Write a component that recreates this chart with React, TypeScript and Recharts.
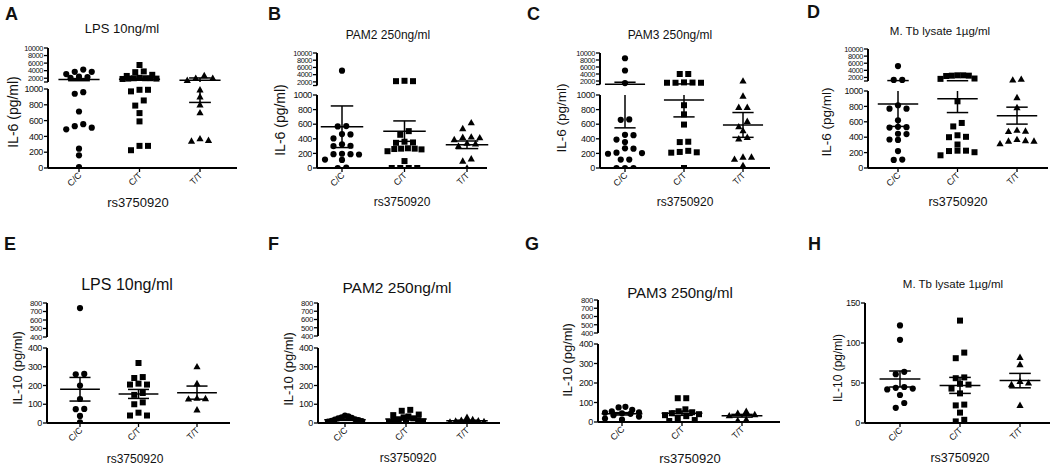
import { ScatterChart, Scatter, XAxis, YAxis, ReferenceLine } from "recharts"

const FONT = '"Liberation Sans", Arial, Helvetica, sans-serif'

const genotypes = ["C/C", "C/T", "T/T"]

// IL-6 (pg/ml)
const lpsIl6CC = [2400, 3700, 4300, 3700, 2300, 2100, 3100, 940, 960, 715, 530, 490, 510, 555, 245, 160, 10]
const lpsIl6CT = [5500, 3600, 3800, 2600, 2900, 2000, 1900, 2000, 2100, 1900, 2000, 1800, 990, 990, 970, 855, 790, 695, 590, 280, 280, 225]
const lpsIl6TT = [2000, 1450, 2000, 2700, 990, 900, 800, 700, 370, 340, 350]
const lpsIl6Mean = [1630, 1720, 1450]
const lpsIl6Sem = [280, 250, 620]

const pam2Il6CC = [5100, 575, 570, 465, 460, 405, 325, 305, 300, 195, 190, 190, 185, 115, 110, 0, 5]
const pam2Il6CT = [2200, 2200, 2300, 505, 455, 360, 350, 345, 270, 265, 260, 265, 255, 230, 95, 0, 0, 0, 0]
const pam2Il6TT = [540, 620, 420, 415, 425, 390, 340, 330, 300, 125, 95, 0]
const pam2Il6Mean = [565, 505, 318]
const pam2Il6Sem = [285, 140, 52]

const pam3Il6CC = [8500, 5000, 1400, 665, 660, 450, 455, 390, 355, 265, 270, 205, 210, 195, 115, 115, 0, 0, 0]
const pam3Il6CT = [4000, 4000, 1500, 1500, 1550, 1500, 1600, 860, 735, 595, 360, 355, 235, 210, 215, 220, 0]
const pam3Il6TT = [2000, 985, 830, 830, 640, 565, 510, 420, 400, 150, 150, 120, 35]
const pam3Il6Mean = [1100, 930, 590]
const pam3Il6Sem = [550, 230, 170]

const mtbIl6CC = [5200, 1300, 1300, 815, 770, 770, 620, 530, 535, 525, 445, 440, 370, 365, 220, 110, 105]
const mtbIl6CT = [2600, 2600, 2500, 2500, 2400, 1600, 1700, 866, 585, 540, 425, 400, 405, 305, 225, 220, 165, 205, 225]
const mtbIl6TT = [1500, 1300, 915, 785, 490, 475, 480, 370, 350, 350, 355, 315]
const mtbIl6Mean = [830, 900, 680]
const mtbIl6Sem = [290, 180, 110]

// IL-10 (pg/ml)
const lpsIl10CC = [740, 260, 262, 200, 128, 75, 74, 38, 4]
const lpsIl10CT = [320, 245, 240, 210, 205, 205, 160, 150, 110, 100, 55, 40, 40]
const lpsIl10TT = [300, 210, 130, 128, 132, 70]
const lpsIl10Mean = [180, 155, 162]
const lpsIl10Sem = [63, 24, 35]

const pam2Il10CC = [40, 35, 30, 28, 25, 20, 18, 15, 12, 10, 8]
const pam2Il10CT = [65, 70, 45, 42, 35, 30, 25, 20, 15, 12, 8, 5, 0]
const pam2Il10TT = [30, 18, 15, 12, 10, 8, 5]
const pam2Il10Mean = [18, 22, 12]
const pam2Il10Sem = [4, 6, 3]

const pam3Il10CC = [75, 78, 62, 55, 50, 48, 45, 42, 35, 28, 18, 12]
const pam3Il10CT = [122, 122, 65, 55, 50, 45, 40, 35, 30, 20, 10, 5]
const pam3Il10TT = [55, 45, 38, 32, 12, 8]
const pam3Il10Mean = [42, 45, 32]
const pam3Il10Sem = [6, 11, 7]

const mtbIl10CC = [122, 104, 64, 61, 45, 44, 43, 42, 35, 25, 19]
const mtbIl10CT = [128, 88, 81, 57, 56, 49, 48, 43, 37, 23, 22, 13, 4, 2]
const mtbIl10TT = [82, 73, 52, 50, 48, 22]
const mtbIl10Mean = [55, 47, 53]
const mtbIl10Sem = [10, 10, 9]

// axis ticks
const il6LowTicks = [0, 200, 400, 600, 800, 1000]
const il6UpTicks = [2000, 4000, 6000, 8000, 10000]
const il10LowTicks = [0, 100, 200, 300, 400]
const il10UpTicks = [400, 500, 600, 700, 800]
const mtbIl10Ticks = [0, 50, 100, 150]

type Brk = { lowMax: number; upMin: number; upMax: number; lowH: number; gap: number }
type Cfg = {
  letter: string; letterX: number; letterY: number
  title: string; titleSize: number; titleX: number; titleY: number
  yLabel: string; yLabelSize: number; yLabelX: number; yLabelY: number
  xLabelSize: number; xLabelX: number; xLabelY: number
  box: [number, number, number, number]
  x0: number; c1: number; c3: number; x1: number; yTop: number; yBot: number
  brk?: Brk; yMax?: number; upFont?: number
  lowTicks: number[]; upTicks?: number[]
  groups: number[][]; mean: number[]; sem: number[]
}

const il6Brk = (lowH: number, gap: number): Brk => ({ lowMax: 1000, upMin: 1000, upMax: 10000, lowH, gap })
const il10Brk = (lowH: number, gap: number): Brk => ({ lowMax: 400, upMin: 400, upMax: 800, lowH, gap })

const panels: Cfg[] = [
  {
    letter: "A", letterX: 5, letterY: 7,
    title: "LPS 10ng/ml", titleSize: 13, titleX: 122, titleY: 28,
    yLabel: "IL-6 (pg/ml)", yLabelSize: 14, yLabelX: 13, yLabelY: 112,
    xLabelSize: 13, xLabelX: 138, xLabelY: 202,
    box: [0, 0, 262, 240], x0: 48, c1: 79, c3: 200, x1: 237, yTop: 48, yBot: 168,
    brk: il6Brk(79, 7), lowTicks: il6LowTicks, upTicks: il6UpTicks,
    groups: [lpsIl6CC, lpsIl6CT, lpsIl6TT], mean: lpsIl6Mean, sem: lpsIl6Sem,
  },
  {
    letter: "B", letterX: 268, letterY: 7,
    title: "PAM2 250ng/ml", titleSize: 12, titleX: 388, titleY: 35,
    yLabel: "IL-6 (pg/ml)", yLabelSize: 14, yLabelX: 280, yLabelY: 120,
    xLabelSize: 12, xLabelX: 402, xLabelY: 202,
    box: [262, 0, 263, 240], x0: 317, c1: 342, c3: 467, x1: 487, yTop: 53, yBot: 168,
    brk: il6Brk(73, 9.5), lowTicks: il6LowTicks, upTicks: il6UpTicks,
    groups: [pam2Il6CC, pam2Il6CT, pam2Il6TT], mean: pam2Il6Mean, sem: pam2Il6Sem,
  },
  {
    letter: "C", letterX: 527, letterY: 7,
    title: "PAM3 250ng/ml", titleSize: 12, titleX: 670, titleY: 35,
    yLabel: "IL-6 (pg/ml)", yLabelSize: 13.5, yLabelX: 562, yLabelY: 118,
    xLabelSize: 12, xLabelX: 685, xLabelY: 202,
    box: [525, 0, 262, 240], x0: 600, c1: 625, c3: 743, x1: 770, yTop: 53, yBot: 168,
    brk: il6Brk(73, 10.5), lowTicks: il6LowTicks, upTicks: il6UpTicks,
    groups: [pam3Il6CC, pam3Il6CT, pam3Il6TT], mean: pam3Il6Mean, sem: pam3Il6Sem,
  },
  {
    letter: "D", letterX: 807, letterY: 5,
    title: "M. Tb lysate 1µg/ml", titleSize: 11.5, titleX: 940, titleY: 32,
    yLabel: "IL-6 (pg/ml)", yLabelSize: 13.5, yLabelX: 827, yLabelY: 122,
    xLabelSize: 12.5, xLabelX: 958, xLabelY: 202,
    box: [787, 0, 263, 240], x0: 868, c1: 898, c3: 1017, x1: 1048, yTop: 49, yBot: 168,
    brk: il6Brk(77, 10), lowTicks: il6LowTicks, upTicks: il6UpTicks,
    groups: [mtbIl6CC, mtbIl6CT, mtbIl6TT], mean: mtbIl6Mean, sem: mtbIl6Sem,
  },
  {
    letter: "E", letterX: 4, letterY: 237,
    title: "LPS 10ng/ml", titleSize: 16, titleX: 127, titleY: 285,
    yLabel: "IL-10 (pg/ml)", yLabelSize: 13, yLabelX: 17, yLabelY: 368,
    xLabelSize: 12, xLabelX: 135, xLabelY: 459,
    box: [0, 240, 262, 225], x0: 47, c1: 80, c3: 197, x1: 230, yTop: 303, yBot: 423,
    brk: il10Brk(75, 11), lowTicks: il10LowTicks, upTicks: il10UpTicks, upFont: 7.8,
    groups: [lpsIl10CC, lpsIl10CT, lpsIl10TT], mean: lpsIl10Mean, sem: lpsIl10Sem,
  },
  {
    letter: "F", letterX: 268, letterY: 237,
    title: "PAM2 250ng/ml", titleSize: 15.5, titleX: 397, titleY: 288,
    yLabel: "IL-10 (pg/ml)", yLabelSize: 13, yLabelX: 288, yLabelY: 369,
    xLabelSize: 12, xLabelX: 408, xLabelY: 458,
    box: [262, 240, 263, 225], x0: 318, c1: 345, c3: 467, x1: 500, yTop: 303, yBot: 423,
    brk: il10Brk(75, 12), lowTicks: il10LowTicks, upTicks: il10UpTicks, upFont: 7.8,
    groups: [pam2Il10CC, pam2Il10CT, pam2Il10TT], mean: pam2Il10Mean, sem: pam2Il10Sem,
  },
  {
    letter: "G", letterX: 525, letterY: 237,
    title: "PAM3 250ng/ml", titleSize: 15, titleX: 680, titleY: 292,
    yLabel: "IL-10 (pg/ml)", yLabelSize: 13, yLabelX: 567, yLabelY: 360,
    xLabelSize: 13, xLabelX: 690, xLabelY: 458,
    box: [525, 240, 262, 225], x0: 598, c1: 622, c3: 742, x1: 780, yTop: 300, yBot: 422,
    brk: il10Brk(78, 11), lowTicks: il10LowTicks, upTicks: il10UpTicks, upFont: 7.8,
    groups: [pam3Il10CC, pam3Il10CT, pam3Il10TT], mean: pam3Il10Mean, sem: pam3Il10Sem,
  },
  {
    letter: "H", letterX: 808, letterY: 237,
    title: "M. Tb lysate 1µg/ml", titleSize: 11.5, titleX: 953, titleY: 285,
    yLabel: "IL-10 (pg/ml)", yLabelSize: 12, yLabelX: 838, yLabelY: 368,
    xLabelSize: 12.5, xLabelX: 960, xLabelY: 458,
    box: [787, 240, 263, 225], x0: 865, c1: 900, c3: 1020, x1: 1050, yTop: 303, yBot: 423,
    yMax: 150, lowTicks: mtbIl10Ticks,
    groups: [mtbIl10CC, mtbIl10CT, mtbIl10TT], mean: mtbIl10Mean, sem: mtbIl10Sem,
  },
]

// spread points that share a row sideways, like a dot plot;
// the highest point of a row sits in the middle, the rest alternate outwards
function swarm(ys: number[], center: number, pxPerUnit: number) {
  const order = ys.map((_, i) => i).sort((a, b) => ys[b] - ys[a])
  const rows: number[][] = []
  let cur: number[] = []
  let start = 0
  order.forEach((i) => {
    if (cur.length && start - ys[i] > 6) {
      rows.push(cur)
      cur = []
    }
    if (!cur.length) start = ys[i]
    cur.push(i)
  })
  if (cur.length) rows.push(cur)
  const pts: { x: number; y: number }[] = []
  rows.forEach((row) => {
    const n = row.length
    const stepPx = n > 1 ? Math.min(8.5, 34 / (n - 1)) : 0
    const slots = Array.from({ length: n }, (_, k) => k - (n - 1) / 2)
      .sort((a, b) => Math.abs(a) - Math.abs(b) || b - a)
    row.forEach((i, k) => pts.push({ x: center + (slots[k] * stepPx) / pxPerUnit, y: ys[i] }))
  })
  return pts
}

const marker = (kind: number) => (props: any) => {
  const { cx, cy } = props
  if (kind === 0) return <circle cx={cx} cy={cy} r={3.1} fill="#000" />
  if (kind === 1) return <rect x={cx - 3} y={cy - 3} width={6} height={6} fill="#000" />
  return <polygon points={`${cx},${cy - 3.8} ${cx + 3.6},${cy + 2.6} ${cx - 3.6},${cy + 2.6}`} fill="#000" />
}

function Panel({ c }: { c: Cfg }) {
  const [bl, bt, bw, bh] = c.box
  const h = c.yBot - c.yTop
  const b = c.brk
  const upH = b ? h - b.lowH - b.gap : 0
  const fLow = (v: number) => (b ? (v / b.lowMax) * b.lowH : (v / (c.yMax as number)) * h)
  const fUp = (v: number) => (b ? b.lowH + b.gap + ((v - b.upMin) / (b.upMax - b.upMin)) * upH : 0)
  const f = (v: number) => (!b || v <= b.lowMax ? fLow(v) : fUp(v))

  const s = (c.c3 - c.c1) / 2
  const lo = 1 - (c.c1 - c.x0) / s
  const hi = 3 + (c.x1 - c.c3) / s
  const plotLeft = c.x0 - bl
  const axisY = c.yBot - bt

  const ticks = c.lowTicks.map((v) => ({ pos: fLow(v), label: String(v), small: false }))
  if (b && c.upTicks) {
    if (!c.upTicks.includes(b.upMin)) ticks.push({ pos: fUp(b.upMin), label: "", small: true })
    c.upTicks.forEach((v) => ticks.push({ pos: fUp(v), label: String(v), small: true }))
  }

  const pts = c.groups.map((g, gi) => swarm(g.map(f), gi + 1, s))

  const refs: any[] = []
  const seg = (key: string, xa: number, ya: number, xb: number, yb: number, w = 1.5) =>
    refs.push(
      <ReferenceLine key={key} segment={[{ x: xa, y: ya }, { x: xb, y: yb }]} stroke="#000" strokeWidth={w} ifOverflow="visible" />
    )
  if (b) {
    seg("ax1", lo, 0, lo, b.lowH, 2)
    seg("ax2", lo, fUp(b.upMin), lo, h, 2)
  } else seg("ax", lo, 0, lo, h, 2)

  c.mean.forEach((m, i) => {
    const x = i + 1
    const top = m + c.sem[i]
    const bot = Math.max(0, m - c.sem[i])
    seg(`m${i}`, x - 0.34, f(m), x + 0.34, f(m))
    seg(`t${i}`, x - 0.18, f(top), x + 0.18, f(top))
    seg(`b${i}`, x - 0.18, f(bot), x + 0.18, f(bot))
    if (b && bot <= b.lowMax && top > b.lowMax) {
      seg(`v${i}a`, x, f(bot), x, b.lowH)
      seg(`v${i}b`, x, fUp(b.upMin), x, f(top))
    } else seg(`v${i}`, x, f(bot), x, f(top))
  })

  const yTick = (props: any) => {
    const t = ticks.find((k) => Math.abs(k.pos - props.payload.value) < 0.01)
    if (!t) return <g />
    return (
      <g>
        <line x1={plotLeft - 4} x2={plotLeft} y1={props.y} y2={props.y} stroke="#000" strokeWidth={1.3} />
        {t.label && (
          <text x={plotLeft - 5} y={props.y} dy="0.36em" textAnchor="end" fontSize={t.small ? c.upFont || 7.4 : 9}
            letterSpacing={-0.35} fontFamily={FONT} fill="#111">
            {t.label}
          </text>
        )}
      </g>
    )
  }

  const xTick = (props: any) => {
    const x = props.x
    return (
      <g>
        <line x1={x} x2={x} y1={axisY} y2={axisY + 4} stroke="#000" strokeWidth={1.3} />
        <text transform={`translate(${x + 3},${axisY + 8}) rotate(-45)`} textAnchor="end" fontSize={9}
          fontFamily={FONT} fill="#111">
          {genotypes[Math.round(props.payload.value) - 1]}
        </text>
      </g>
    )
  }

  const center = { position: "absolute" as const, transform: "translate(-50%,-50%)", whiteSpace: "nowrap" as const, lineHeight: 1 }

  return (
    <>
      <div style={{ position: "absolute", left: bl, top: bt, width: bw, height: bh }}>
        <ScatterChart
          width={bw}
          height={bh}
          margin={{ top: c.yTop - bt, right: bl + bw - c.x1, bottom: bh - axisY - 30, left: plotLeft - 30 }}
        >
          <XAxis type="number" dataKey="x" domain={[lo, hi]} ticks={[1, 2, 3]} interval={0} tick={xTick}
            tickLine={false} axisLine={{ stroke: "#000", strokeWidth: 2 }} height={30} allowDataOverflow />
          <YAxis type="number" dataKey="y" domain={[0, h]} ticks={ticks.map((t) => t.pos)} interval={0} tick={yTick}
            tickLine={false} axisLine={false} width={30} allowDataOverflow />
          {refs}
          {pts.map((d, gi) => (
            <Scatter key={gi} data={d} shape={marker(gi)} isAnimationActive={false} />
          ))}
        </ScatterChart>
      </div>
      <div style={{ position: "absolute", left: c.letterX, top: c.letterY - 2, fontSize: 18, fontWeight: 700, lineHeight: 1 }}>
        {c.letter}
      </div>
      <div style={{ ...center, left: c.titleX, top: c.titleY, fontSize: c.titleSize }}>{c.title}</div>
      <div style={{ ...center, left: c.xLabelX, top: c.xLabelY, fontSize: c.xLabelSize }}>rs3750920</div>
      <div style={{ ...center, left: c.yLabelX, top: c.yLabelY, fontSize: c.yLabelSize, transform: "translate(-50%,-50%) rotate(-90deg)" }}>
        {c.yLabel}
      </div>
    </>
  )
}

export default function App() {
  return (
    <div
      style={{
        position: "absolute", left: 0, top: 0, width: 1050, height: 465,
        background: "#fff", overflow: "hidden", fontFamily: FONT, color: "#111",
      }}
    >
      {panels.map((p) => (
        <Panel key={p.letter} c={p} />
      ))}
    </div>
  )
}
